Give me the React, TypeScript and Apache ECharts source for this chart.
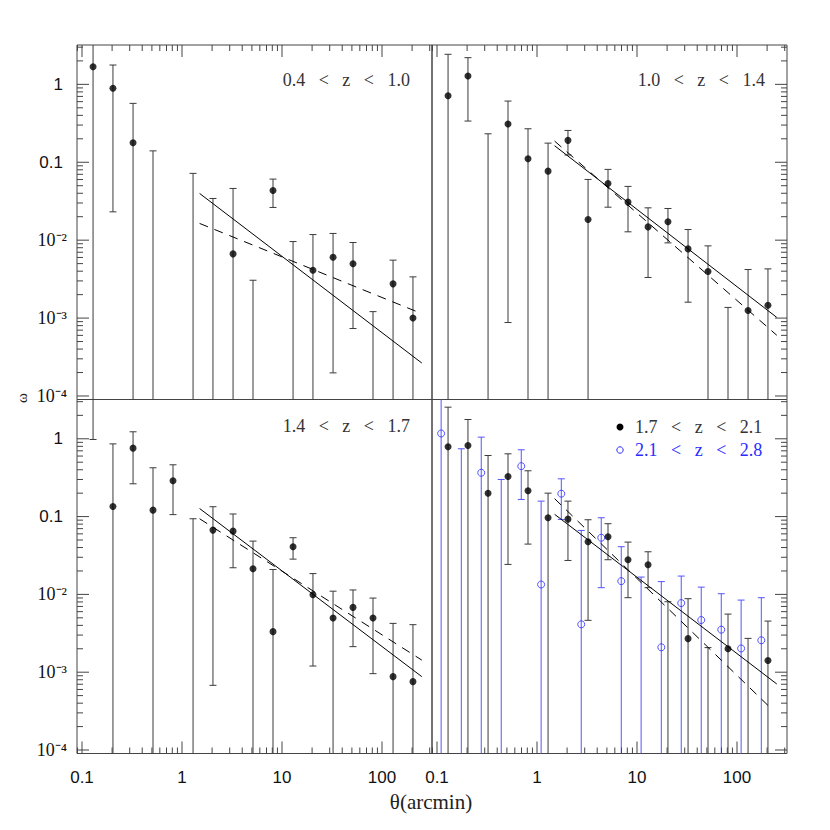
import React, { useEffect, useRef } from "react";
import * as echarts from "echarts";

// ---------- data (theta in arcmin, omega dimensionless) ----------
const THETA = [0.129, 0.204, 0.324, 0.513, 0.813, 1.29, 2.04, 3.24, 5.13, 8.13, 12.9, 20.4, 32.4, 51.3, 81.3, 129, 204];
const THETA_SHIFT = [0.11, 0.175, 0.277, 0.439, 0.696, 1.1, 1.75, 2.77, 4.39, 6.96, 11.0, 17.5, 27.7, 43.9, 69.6, 110, 175];

// 0.4 < z < 1.0   (lower = 0 : error bar runs below the plotted range)
const Z1_OMEGA = [1.68, 0.89, 0.178, null, null, null, null, 0.00667, null, 0.0435, null, 0.0041, 0.00605, 0.00497, null, 0.00275, 0.001];
const Z1_UPPER = [5, 1.77, 0.57, 0.14, null, 0.072, 0.0343, 0.0461, 0.00306, 0.0608, 0.0096, 0.0118, 0.0122, 0.00933, 0.00121, 0.00554, 0.00338];
const Z1_LOWER = [0, 0.0231, 0, 0, null, 0, 0, 0, 0, 0.0263, 0, 0, 0.000198, 0.000734, 0, 0, 0];

// 1.0 < z < 1.4
const Z2_OMEGA = [0.714, 1.28, null, 0.309, 0.111, 0.0769, 0.191, 0.0184, 0.0535, 0.0308, 0.0148, 0.0172, 0.00773, 0.00396, null, 0.00125, 0.00146];
const Z2_UPPER = [2.43, 2.2, 0.232, 0.61, 0.269, 0.176, 0.256, 0.0602, 0.081, 0.049, 0.026, 0.0255, 0.0137, 0.00845, 0.00137, 0.0042, 0.00428];
const Z2_LOWER = [0, 0.338, 0, 0.000877, 0, 0, 0.124, 0, 0.0265, 0.0128, 0.00332, 0.00923, 0.0016, 0, 0, 0, 0];

// 1.4 < z < 1.7
const Z3_OMEGA = [null, 0.135, 0.758, 0.121, 0.289, null, 0.067, 0.065, 0.0214, 0.00332, 0.041, 0.0099, 0.00496, 0.00681, 0.00496, 0.000877, 0.000756];
const Z3_UPPER = [5, 0.86, 1.23, 0.424, 0.463, 0.0938, 0.134, 0.108, 0.0484, 0.0209, 0.0535, 0.0185, 0.011, 0.0114, 0.00897, 0.00424, 0.00408];
const Z3_LOWER = [0.98, 0, 0.264, 0, 0.106, 0, 0.000678, 0.022, 0, 0, 0.0284, 0.0012, 0, 0.00213, 0.000958, 0, 0];

// 1.7 < z < 2.1
const Z4_OMEGA = [0.789, 0.82, 0.2, 0.328, 0.215, 0.0966, 0.0927, 0.0475, 0.0551, 0.0279, 0.024, null, 0.0027, null, 0.002, null, 0.00141];
const Z4_UPPER = [2.55, 1.77, 0.61, 0.641, 0.388, 0.2, 0.158, 0.0911, 0.081, 0.047, 0.0353, 0.00805, 0.00881, 0.00207, 0.00558, 0.00272, 0.00454];
const Z4_LOWER = [0, 0, 0, 0.0243, 0.0443, 0, 0.0273, 0.00464, 0.0279, 0.00907, 0.0122, 0, 0, 0, 0, 0, 0];

// 2.1 < z < 2.8
const Z5_OMEGA = [1.17, null, 0.366, null, 0.445, 0.0134, 0.197, 0.00412, 0.0535, 0.0148, null, 0.00209, 0.00773, 0.00468, 0.00352, 0.00202, 0.00257];
const Z5_UPPER = [4, 0.744, 1.05, 0.3, 0.722, 0.158, 0.306, 0.0664, 0.0966, 0.041, 0.0167, 0.0146, 0.0172, 0.0124, 0.0102, 0.00845, 0.00907];
const Z5_LOWER = [0, 0, 0, 0, 0.166, 0, 0.0919, 0, 0.0122, 0, 0, 0, 0, 0, 0, 0, 0];

// power-law fits
const FIT_THETA = [1.5, 250];
const FIT_THETA_Z4_DASHED = [1.5, 224];
const Z1_FIT_SOLID = [0.0398, 0.000265];
const Z1_FIT_DASHED = [0.0164, 0.00114];
const Z2_FIT_SOLID = [0.163, 0.00102];
const Z2_FIT_DASHED = [0.187, 0.000602];
const Z3_FIT_SOLID = [0.127, 0.000877];
const Z3_FIT_DASHED = [0.0938, 0.00143];
const Z4_FIT_SOLID = [0.107, 0.000705];
const Z4_FIT_DASHED = [0.17, 0.000333];

// axis ticks
const Y_TICK_VALUES = [1, 0.1, 0.01, 0.001, 0.0001];
const Y_TICK_LABELS = ["1", "0.1", "10\u207B\u00B2", "10\u207B\u00B3", "10\u207B\u2074"];
const X_TICK_VALUES = [0.1, 1, 10, 100];
const X_TICK_LABELS = ["0.1", "1", "10", "100"];
const DECADES = [-5, -4, -3, -2, -1, 0, 1, 2];
const MINOR_MULT = [2, 3, 4, 5, 6, 7, 8, 9];

const PANEL_LABELS = ["0.4 < z < 1.0", "1.0 < z < 1.4", "1.4 < z < 1.7"];
const LEGEND_LABELS = ["1.7 < z < 2.1", "2.1 < z < 2.8"];

// ---------- layout ----------
const X_MIN = -1.05, X_MAX = 2.5, Y_MIN = -4.045, Y_MAX = 0.505;
const GRIDS = [
  { left: 77, top: 45, width: 355, height: 354.5 },
  { left: 432, top: 45, width: 355, height: 354.5 },
  { left: 77, top: 399.5, width: 355, height: 354 },
  { left: 432, top: 399.5, width: 355, height: 354 },
];
const TICK_SIDES = [["top", "left"], ["top", "right"], ["bottom", "left"], ["bottom", "right"]];
const BLUE = "#2b2bff";
const BLUE_BAR = "#5555ff";
const BAR = "#3a3a3a";
const SERIF = '"Liberation Serif", "Times New Roman", serif';
const SANS = '"Liberation Sans", Arial, sans-serif';
const sp = (s: string) => s.split(" ").join("\u00a0\u00a0\u00a0");
const L = Math.log10;

function barData(theta: number[], upper: (number | null)[], lower: (number | null)[]) {
  const out: number[][] = [];
  theta.forEach((t, i) => {
    const u = upper[i];
    if (u == null) return;
    const l = lower[i] as number;
    const lu = L(u);
    const ll = l > 0 ? L(l) : -Infinity;
    out.push([L(t), Math.max(ll, Y_MIN), Math.min(lu, Y_MAX), ll >= Y_MIN ? 1 : 0, lu <= Y_MAX ? 1 : 0]);
  });
  return out;
}
function pointData(theta: number[], omega: (number | null)[]) {
  const out: number[][] = [];
  theta.forEach((t, i) => {
    const o = omega[i];
    if (o != null) out.push([L(t), L(o)]);
  });
  return out;
}

function tickItems(sides: string[]) {
  const items: { v: number; side: string; major: boolean }[] = [];
  for (const side of sides) {
    const horiz = side === "top" || side === "bottom";
    const min = horiz ? X_MIN : Y_MIN;
    const max = horiz ? X_MAX : Y_MAX;
    for (const d of DECADES) {
      if (d >= min && d <= max) items.push({ v: d, side, major: true });
      for (const m of MINOR_MULT) {
        const v = d + L(m);
        if (v >= min && v <= max) items.push({ v, side, major: false });
      }
    }
  }
  return items;
}

function buildOption() {
  const series: any[] = [];
  const grid = GRIDS.map((g) => ({
    ...g,
    show: true,
    borderColor: "#444",
    borderWidth: 1,
    backgroundColor: "transparent",
    containLabel: false,
    outerBoundsMode: "none",
  }));
  const xAxis = GRIDS.map((_, i) => ({ type: "value", gridIndex: i, min: X_MIN, max: X_MAX, show: false }));
  const yAxis = GRIDS.map((_, i) => ({ type: "value", gridIndex: i, min: Y_MIN, max: Y_MAX, show: false }));

  const groups = [
    { g: 0, theta: THETA, omega: Z1_OMEGA, upper: Z1_UPPER, lower: Z1_LOWER, blue: false },
    { g: 1, theta: THETA, omega: Z2_OMEGA, upper: Z2_UPPER, lower: Z2_LOWER, blue: false },
    { g: 2, theta: THETA, omega: Z3_OMEGA, upper: Z3_UPPER, lower: Z3_LOWER, blue: false },
    { g: 3, theta: THETA_SHIFT, omega: Z5_OMEGA, upper: Z5_UPPER, lower: Z5_LOWER, blue: true },
    { g: 3, theta: THETA, omega: Z4_OMEGA, upper: Z4_UPPER, lower: Z4_LOWER, blue: false },
  ];
  groups.forEach((gr, k) => {
    const stroke = gr.blue ? BLUE_BAR : BAR;
    series.push({
      type: "custom",
      xAxisIndex: gr.g,
      yAxisIndex: gr.g,
      silent: true,
      z: 2 + k * 0.01,
      encode: { x: 0, y: [1, 2] },
      data: barData(gr.theta, gr.upper, gr.lower),
      renderItem: (params: any, api: any) => {
        const x = api.value(0);
        const pl = api.coord([x, api.value(1)]);
        const ph = api.coord([x, api.value(2)]);
        const st = { stroke, lineWidth: 1 };
        const children: any[] = [
          { type: "line", shape: { x1: pl[0], y1: pl[1], x2: ph[0], y2: ph[1] }, style: st },
        ];
        if (api.value(3)) children.push({ type: "line", shape: { x1: pl[0] - 3.5, y1: pl[1], x2: pl[0] + 3.5, y2: pl[1] }, style: st });
        if (api.value(4)) children.push({ type: "line", shape: { x1: ph[0] - 3.5, y1: ph[1], x2: ph[0] + 3.5, y2: ph[1] }, style: st });
        return { type: "group", children };
      },
    });
    series.push({
      type: "scatter",
      xAxisIndex: gr.g,
      yAxisIndex: gr.g,
      silent: true,
      z: 4,
      symbol: "circle",
      symbolSize: 7,
      itemStyle: gr.blue
        ? { color: "rgba(255,255,255,0)", borderColor: BLUE, borderWidth: 1 }
        : { color: "#000" },
      data: pointData(gr.theta, gr.omega),
    });
  });

  const fits = [
    { g: 0, x: FIT_THETA, s: Z1_FIT_SOLID, dx: FIT_THETA, d: Z1_FIT_DASHED },
    { g: 1, x: FIT_THETA, s: Z2_FIT_SOLID, dx: FIT_THETA, d: Z2_FIT_DASHED },
    { g: 2, x: FIT_THETA, s: Z3_FIT_SOLID, dx: FIT_THETA, d: Z3_FIT_DASHED },
    { g: 3, x: FIT_THETA, s: Z4_FIT_SOLID, dx: FIT_THETA_Z4_DASHED, d: Z4_FIT_DASHED },
  ];
  fits.forEach((f) => {
    series.push({
      type: "line", xAxisIndex: f.g, yAxisIndex: f.g, silent: true, z: 3, symbol: "none",
      lineStyle: { color: "#000", width: 1 },
      data: f.x.map((t, i) => [L(t), L(f.s[i])]),
    });
    series.push({
      type: "line", xAxisIndex: f.g, yAxisIndex: f.g, silent: true, z: 3, symbol: "none",
      lineStyle: { color: "#000", width: 1, type: [9, 7] },
      data: f.dx.map((t, i) => [L(t), L(f.d[i])]),
    });
  });

  // ticks (inside, on the outer edges of each panel)
  GRIDS.forEach((_, g) => {
    const items = tickItems(TICK_SIDES[g]);
    series.push({
      type: "custom", xAxisIndex: g, yAxisIndex: g, silent: true, z: 5,
      data: items.map(() => [X_MIN, Y_MIN]),
      renderItem: (params: any, api: any) => {
        const t = items[params.dataIndex];
        const len = t.major ? 12 : 6;
        let x1 = 0, y1 = 0, x2 = 0, y2 = 0;
        if (t.side === "top") { const p = api.coord([t.v, Y_MAX]); x1 = x2 = p[0]; y1 = p[1]; y2 = p[1] + len; }
        else if (t.side === "bottom") { const p = api.coord([t.v, Y_MIN]); x1 = x2 = p[0]; y1 = p[1]; y2 = p[1] - len; }
        else if (t.side === "left") { const p = api.coord([X_MIN, t.v]); y1 = y2 = p[1]; x1 = p[0]; x2 = p[0] + len; }
        else { const p = api.coord([X_MAX, t.v]); y1 = y2 = p[1]; x1 = p[0]; x2 = p[0] - len; }
        return { type: "line", shape: { x1, y1, x2, y2 }, style: { stroke: "#444", lineWidth: 1 } };
      },
    });

    // tick labels
    const labels: { v: number; text: string; axis: string }[] = [];
    if (TICK_SIDES[g].includes("left"))
      Y_TICK_VALUES.forEach((v, i) => labels.push({ v: L(v), text: Y_TICK_LABELS[i], axis: "y" }));
    if (TICK_SIDES[g].includes("bottom"))
      X_TICK_VALUES.forEach((v, i) => labels.push({ v: L(v), text: X_TICK_LABELS[i], axis: "x" }));
    if (labels.length) {
      series.push({
        type: "custom", xAxisIndex: g, yAxisIndex: g, silent: true, z: 5,
        data: labels.map(() => [X_MIN, Y_MIN]),
        renderItem: (params: any, api: any) => {
          const lb = labels[params.dataIndex];
          if (lb.axis === "y") {
            const p = api.coord([X_MIN, lb.v]);
            const serif = lb.text.startsWith("10");
            return {
              type: "text", x: serif ? p[0] - 10 : p[0] - 14, y: p[1],
              style: {
                text: lb.text, fill: "#111",
                fontSize: serif ? 18 : 17, fontFamily: serif ? SERIF : SANS,
                align: "right", verticalAlign: "middle", textAlign: "right", textVerticalAlign: "middle",
              },
            };
          }
          const p = api.coord([lb.v, Y_MIN]);
          return {
            type: "text", x: p[0], y: p[1] + 23.5,
            style: {
              text: lb.text, fill: "#111", fontSize: 17, fontFamily: SANS,
              align: "center", verticalAlign: "middle", textAlign: "center", textVerticalAlign: "middle",
            },
          };
        },
      });
    }
  });

  const txt = (x: number, y: number, text: string, fill: string, align: string, size = 18, extra: any = {}) => ({
    type: "text", x, y, silent: true, z: 10, ...extra,
    style: { text, fill, fontSize: size, fontFamily: SERIF, align, verticalAlign: "middle", textAlign: align, textVerticalAlign: "middle" },
  });

  const graphic = [
    txt(410, 80, sp(PANEL_LABELS[0]), "#333", "right"),
    txt(765, 80, sp(PANEL_LABELS[1]), "#333", "right"),
    txt(410, 426, sp(PANEL_LABELS[2]), "#333", "right"),
    txt(635, 427, sp(LEGEND_LABELS[0]), "#333", "left"),
    txt(635, 450, sp(LEGEND_LABELS[1]), BLUE, "left"),
    { type: "circle", z: 10, silent: true, shape: { cx: 620, cy: 427, r: 3.5 }, style: { fill: "#000" } },
    { type: "circle", z: 10, silent: true, shape: { cx: 620, cy: 450, r: 3.2 }, style: { fill: "none", stroke: BLUE, lineWidth: 1 } },
    txt(431, 802, "\u03B8(arcmin)", "#222", "center", 21),
    txt(22, 398, "\u03C9", "#222", "center", 15, { rotation: Math.PI / 2 }),
  ];

  return { animation: false, backgroundColor: "#fff", grid, xAxis, yAxis, series, graphic };
}

export default function App() {
  const ref = useRef<HTMLDivElement>(null);
  useEffect(() => {
    const chart = echarts.init(ref.current as HTMLDivElement, undefined, { renderer: "svg" });
    chart.setOption(buildOption() as any);
    return () => chart.dispose();
  }, []);
  return (
    <div
      ref={ref}
      style={{ position: "absolute", left: 0, top: 0, width: 830, height: 830, background: "#fff" }}
    />
  );
}
